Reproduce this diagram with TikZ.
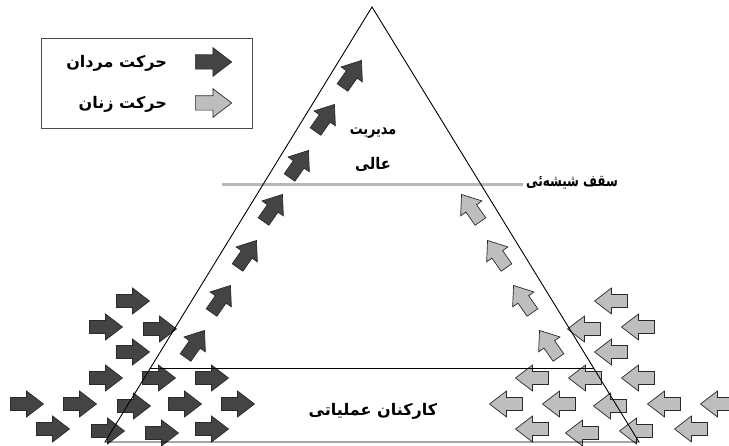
\documentclass[tikz,border=0pt]{standalone}
\usepackage{fontspec}
\usetikzlibrary{calc}
\TeXXeTstate=1
\newfontfamily\fa[Script=Arabic]{DejaVu Sans}
\definecolor{dk}{HTML}{444444}
\definecolor{lt}{HTML}{BEBEBE}
\definecolor{edge}{HTML}{2A2A2A}
\definecolor{ceil}{HTML}{B8B8B8}
\tikzset{
  arw/.pic={\path[pic actions] (-16.5,-6.5) -- (-0.5,-6.5) -- (-0.5,-13) -- (16.5,0) -- (-0.5,13) -- (-0.5,6.5) -- (-16.5,6.5) -- cycle;},
  darkarrow/.style={fill=dk, draw=edge, line width=0.7pt, line join=miter},
  lightarrow/.style={fill=lt, draw=edge, line width=0.7pt, line join=miter},
  edgeline/.style={draw=black, line width=0.9pt},
  fatext/.style={font=\fa\bfseries\fontsize{16}{18}\selectfont, inner sep=0pt},
  narrow/.style={transform shape, xscale=#1},
}
\begin{document}
\begin{tikzpicture}[x=1pt,y=-1pt]
\useasboundingbox (0,0) rectangle (729,446);
% coordinates of the pyramid
\coordinate (apex) at (372,7);
\coordinate (bl) at (105,442);
\coordinate (br) at (639,442);
\coordinate (bandl) at ($(apex)!0.832!(bl)$);
\coordinate (bandr) at ($(apex)!0.832!(br)$);
\coordinate (ceill) at (222,185);
\coordinate (ceilr) at (523,185);
% legend
\node[draw=black!70, line width=0.8pt, minimum width=211pt, minimum height=90pt, inner sep=0pt] (legend) at (146.5,83) {};
\pic[darkarrow, scale=1.1] (legd) at (213.5,62) {arw};
\pic[lightarrow, scale=1.1] (legl) at (213.5,103) {arw};
\node[fatext, anchor=east] (men) at (167,63) {\beginR حرکت مردان\endR};
\node[fatext, anchor=east] (women) at (167,104) {\beginR حرکت زنان\endR};
% right-pointing dark arrows and their mirrored light arrows
\foreach \x/\y [count=\i] in {133/301,106/327,160/329,133/352,106/378,159/378,212/378,27/404,80/404,134/406,185/404,238/404,53/429,108/431,162/433,212/429}{
  \pic[darkarrow] (d\i) at (\x,\y) {arw};
  \pic[lightarrow, rotate=180] (l\i) at ({744-\x},\y) {arw};
}
% rising arrows
\foreach \x/\y [count=\i] in {195/344,221/299,247/254,273/208,299/164,325/118,352/74}{
  \pic[darkarrow, rotate=55] (rd\i) at (\x,\y) {arw};
}
\foreach \x/\y [count=\i] in {195/344,221/299,247/254,273/208}{
  \pic[lightarrow, rotate=125] (rl\i) at ({744-\x},\y) {arw};
}
% glass ceiling
\draw[ceil, line width=3pt] (ceill) -- (ceilr);
% pyramid
\draw[edgeline] (apex) -- (bl) -- (br) -- cycle;
\draw[edgeline] (bandl) -- (bandr);
% labels
\node[fatext, narrow=0.8] (top1) at (373,133) {\beginR مدیریت\endR};
\node[fatext, narrow=0.92] (top2) at (373,164) {\beginR عالی\endR};
\node[fatext, narrow=0.75, anchor=west] (glass) at (526,183) {\beginR سقف شیشه‌ئی\endR};
\node[fatext] (ops) at (373,411) {\beginR کارکنان عملیاتی\endR};
\end{tikzpicture}
\end{document}
